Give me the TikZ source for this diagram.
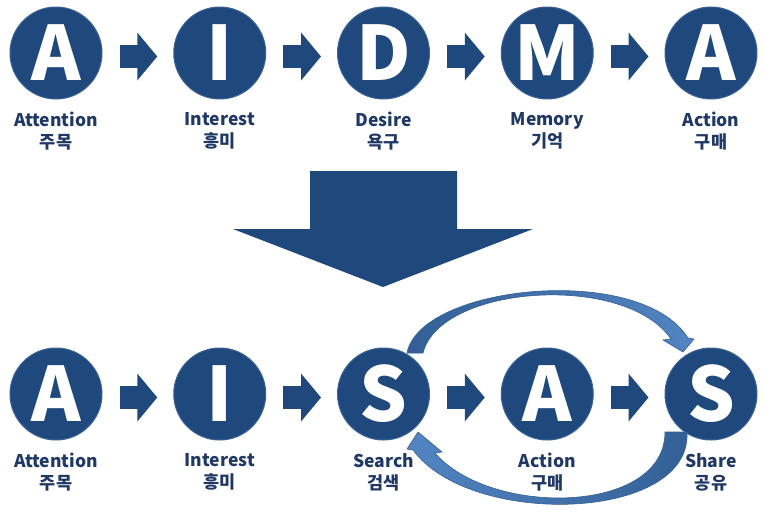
\documentclass[tikz,border=0pt]{standalone}
\usepackage{fontspec}
\setmainfont{Noto Sans CJK KR}
\usetikzlibrary{positioning,arrows.meta}
\definecolor{navy}{HTML}{1F487C}
\definecolor{rim}{HTML}{3B6398}
\definecolor{ink}{HTML}{203864}
\definecolor{loopblue}{HTML}{5285C2}
\definecolor{loopdark}{HTML}{335F96}
\tikzset{
  stage/.style={circle,fill=navy,draw=rim,line width=1pt,minimum size=92pt,inner sep=0pt,
    text=white,font=\fontsize{75}{75}\selectfont\bfseries},
  lbl/.style={below=9pt of #1,align=center,text=ink,font=\fontsize{17.5}{22}\selectfont\bfseries,
    execute at begin node={\rule{0pt}{16pt}}},
  fwd/.style={draw=navy,line width=23pt,-{Triangle[length=20pt,width=47pt]},shorten <=17pt,shorten >=16pt},
  loop/.style={draw=loopdark,line width=0.6pt},
}

\begin{document}
\begin{tikzpicture}[x=1pt,y=-1pt,node distance=70.75pt]
  \useasboundingbox (0,0) rectangle (765,517);
  % AIDMA
  \node[stage] (a1) at (56,53) {A};
  \node[stage,right=of a1] (i1) {I};
  \node[stage,right=of i1] (d1) {D};
  \node[stage,right=of d1] (m1) {M};
  \node[stage,right=of m1] (b1) {A};
  \node[lbl=a1] {Attention\\주목};
  \node[lbl=i1] {Interest\\흥미};
  \node[lbl=d1] {Desire\\욕구};
  \node[lbl=m1] {Memory\\기억};
  \node[lbl=b1] {Action\\구매};
  \draw[fwd] ([yshift=-3.5pt]a1.east) -- ([yshift=-3.5pt]i1.west);
  \draw[fwd] ([yshift=-3.5pt]i1.east) -- ([yshift=-3.5pt]d1.west);
  \draw[fwd] ([yshift=-3.5pt]d1.east) -- ([yshift=-3.5pt]m1.west);
  \draw[fwd] ([yshift=-3.5pt]m1.east) -- ([yshift=-3.5pt]b1.west);
  % big arrow
  \fill[navy] (310,171) -- (457,171) -- (457,229) -- (533,229) -- (383,287)
    -- (233,229) -- (310,229) -- cycle;
  % AISAS
  \node[stage] (a2) at (56,394) {A};
  \node[stage,right=of a2] (i2) {I};
  \node[stage,right=of i2] (s2) {S};
  \node[stage,right=of s2] (b2) {A};
  \node[stage,right=of b2] (h2) {S};
  \node[lbl=a2] {Attention\\주목};
  \node[lbl=i2] {Interest\\흥미};
  \node[lbl=s2] {Search\\검색};
  \node[lbl=b2] {Action\\구매};
  \node[lbl=h2] {Share\\공유};
  \draw[fwd] ([yshift=-3.5pt]a2.east) -- ([yshift=-3.5pt]i2.west);
  \draw[fwd] ([yshift=-3.5pt]i2.east) -- ([yshift=-3.5pt]s2.west);
  \draw[fwd] ([yshift=-3.5pt]s2.east) -- ([yshift=-3.5pt]b2.west);
  \draw[fwd] ([yshift=-3.5pt]b2.east) -- ([yshift=-3.5pt]h2.west);
  % loops
  \path[loop,left color=loopdark,right color=loopblue]
    (407,353) .. controls (420,285) and (640,262) .. (688,338) -- (694,339)
    -- (683,352) -- (663,340) -- (671,339) .. controls (625,272) and (440,285) .. (423,353) -- cycle;
  \path[loop,left color=loopblue,right color=loopdark]
    (687,432) .. controls (692,522) and (470,528) .. (413,450) -- (407,449)
    -- (418,432) -- (442,452) -- (435,453) .. controls (490,517) and (665,515) .. (665,432) -- cycle;
\end{tikzpicture}
\end{document}
